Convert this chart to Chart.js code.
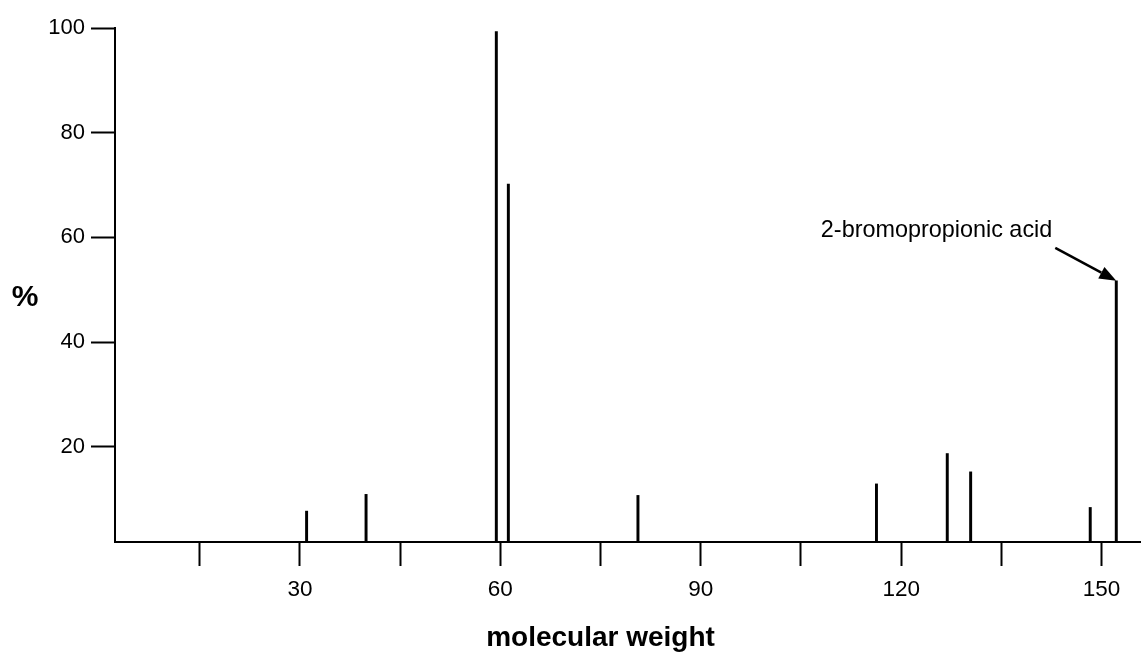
<!DOCTYPE html>
<html>
<head>
<meta charset="utf-8">
<script src="https://cdn.jsdelivr.net/npm/chart.js@4.4.1/dist/chart.umd.min.js"></script>
<style>
  body { margin: 0; background: #fff; }
  #wrap { width: 1141px; height: 652px; position: relative; }
</style>
</head>
<body>
<div id="wrap"><canvas id="spectrum"></canvas></div>
<script>
/* ---------------- DATA ---------------- */

const masses = [31, 39.9, 59.4, 61.2, 80.6, 116.3, 126.9, 130.4, 148.3, 152.2];
const intensities = [7.7, 10.9, 99.3, 70.2, 10.7, 12.9, 18.7, 15.2, 8.4, 51.7];

const xTicks = [15, 30, 45, 60, 75, 90, 105, 120, 135, 150];
const yTicks = [20, 40, 60, 80, 100];

const xTitle = "molecular weight";
const yTitle = "%";
const noteText = "2-bromopropionic acid";
const noteIndex = 9;

const font = "'Liberation Sans', Arial, sans-serif";

/* ---------------- EXTRA DRAWING ---------------- */

const labelsPlugin = {
  id: "labels",
  afterDraw(chart) {
    const ctx = chart.ctx;
    const xs = chart.scales.x;
    const ys = chart.scales.y;
    ctx.save();
    ctx.fillStyle = "#000";
    ctx.strokeStyle = "#000";

    // axis titles
    ctx.font = "bold 28px " + font;
    ctx.textAlign = "center";
    ctx.textBaseline = "alphabetic";
    ctx.fillText(xTitle, xs.getPixelForValue(75), 646);
    ctx.font = "bold 30px " + font;
    ctx.fillText(yTitle, 25, 306);

    // annotation with arrow
    const tx = xs.getPixelForValue(masses[noteIndex]);
    const ty = ys.getPixelForValue(intensities[noteIndex]);
    const sx = tx - 61, sy = ty - 33;
    const ang = Math.atan2(ty - sy, tx - sx);
    const hl = 17, hw = 6.5;
    const bx = tx - hl * Math.cos(ang), by = ty - hl * Math.sin(ang);
    ctx.lineWidth = 2.5;
    ctx.beginPath();
    ctx.moveTo(sx, sy);
    ctx.lineTo(bx, by);
    ctx.stroke();
    ctx.beginPath();
    ctx.moveTo(tx, ty);
    ctx.lineTo(bx - hw * Math.sin(ang), by + hw * Math.cos(ang));
    ctx.lineTo(bx + hw * Math.sin(ang), by - hw * Math.cos(ang));
    ctx.closePath();
    ctx.fill();

    ctx.font = "23.4px " + font;
    ctx.textAlign = "right";
    ctx.fillText(noteText, tx - 64, ty - 44);
    ctx.restore();
  }
};

/* ---------------- CHART ---------------- */

new Chart(document.getElementById("spectrum"), {
  type: "bar",
  data: {
    datasets: [{
      data: masses.map((m, i) => ({ x: m, y: intensities[i] })),
      backgroundColor: "#000",
      borderWidth: 0,
      barThickness: 2.3
    }]
  },
  options: {
    responsive: true,
    maintainAspectRatio: false,
    animation: false,
    layout: { padding: { top: 28, right: 0, left: 0, bottom: 0 } },
    plugins: { legend: { display: false }, tooltip: { enabled: false } },
    scales: {
      x: {
        type: "linear",
        offset: false,
        min: 2.32,
        max: 155.9,
        afterBuildTicks: s => { s.ticks = xTicks.map(v => ({ value: v })); },
        afterFit: s => { s.height = 110; },
        border: { display: true, color: "#000", width: 2 },
        grid: { offset: false, drawOnChartArea: false, drawTicks: true, tickLength: 24, tickColor: "#000", tickWidth: 2 },
        ticks: {
          color: "#000",
          font: { family: font, size: 22.5 },
          padding: 10,
          maxRotation: 0,
          autoSkip: false,
          callback: v => (v % 30 === 0 ? v : "")
        }
      },
      y: {
        min: 1.8,
        max: 100,
        afterBuildTicks: s => { s.ticks = yTicks.map(v => ({ value: v })); },
        afterFit: s => { s.width = 115; },
        border: { display: true, color: "#000", width: 2 },
        grid: { drawOnChartArea: false, drawTicks: true, tickLength: 24, tickColor: "#000", tickWidth: 2 },
        ticks: {
          color: "#000",
          font: { family: font, size: 22 },
          padding: 6
        }
      }
    }
  },
  plugins: [labelsPlugin]
});
</script>
</body>
</html>
